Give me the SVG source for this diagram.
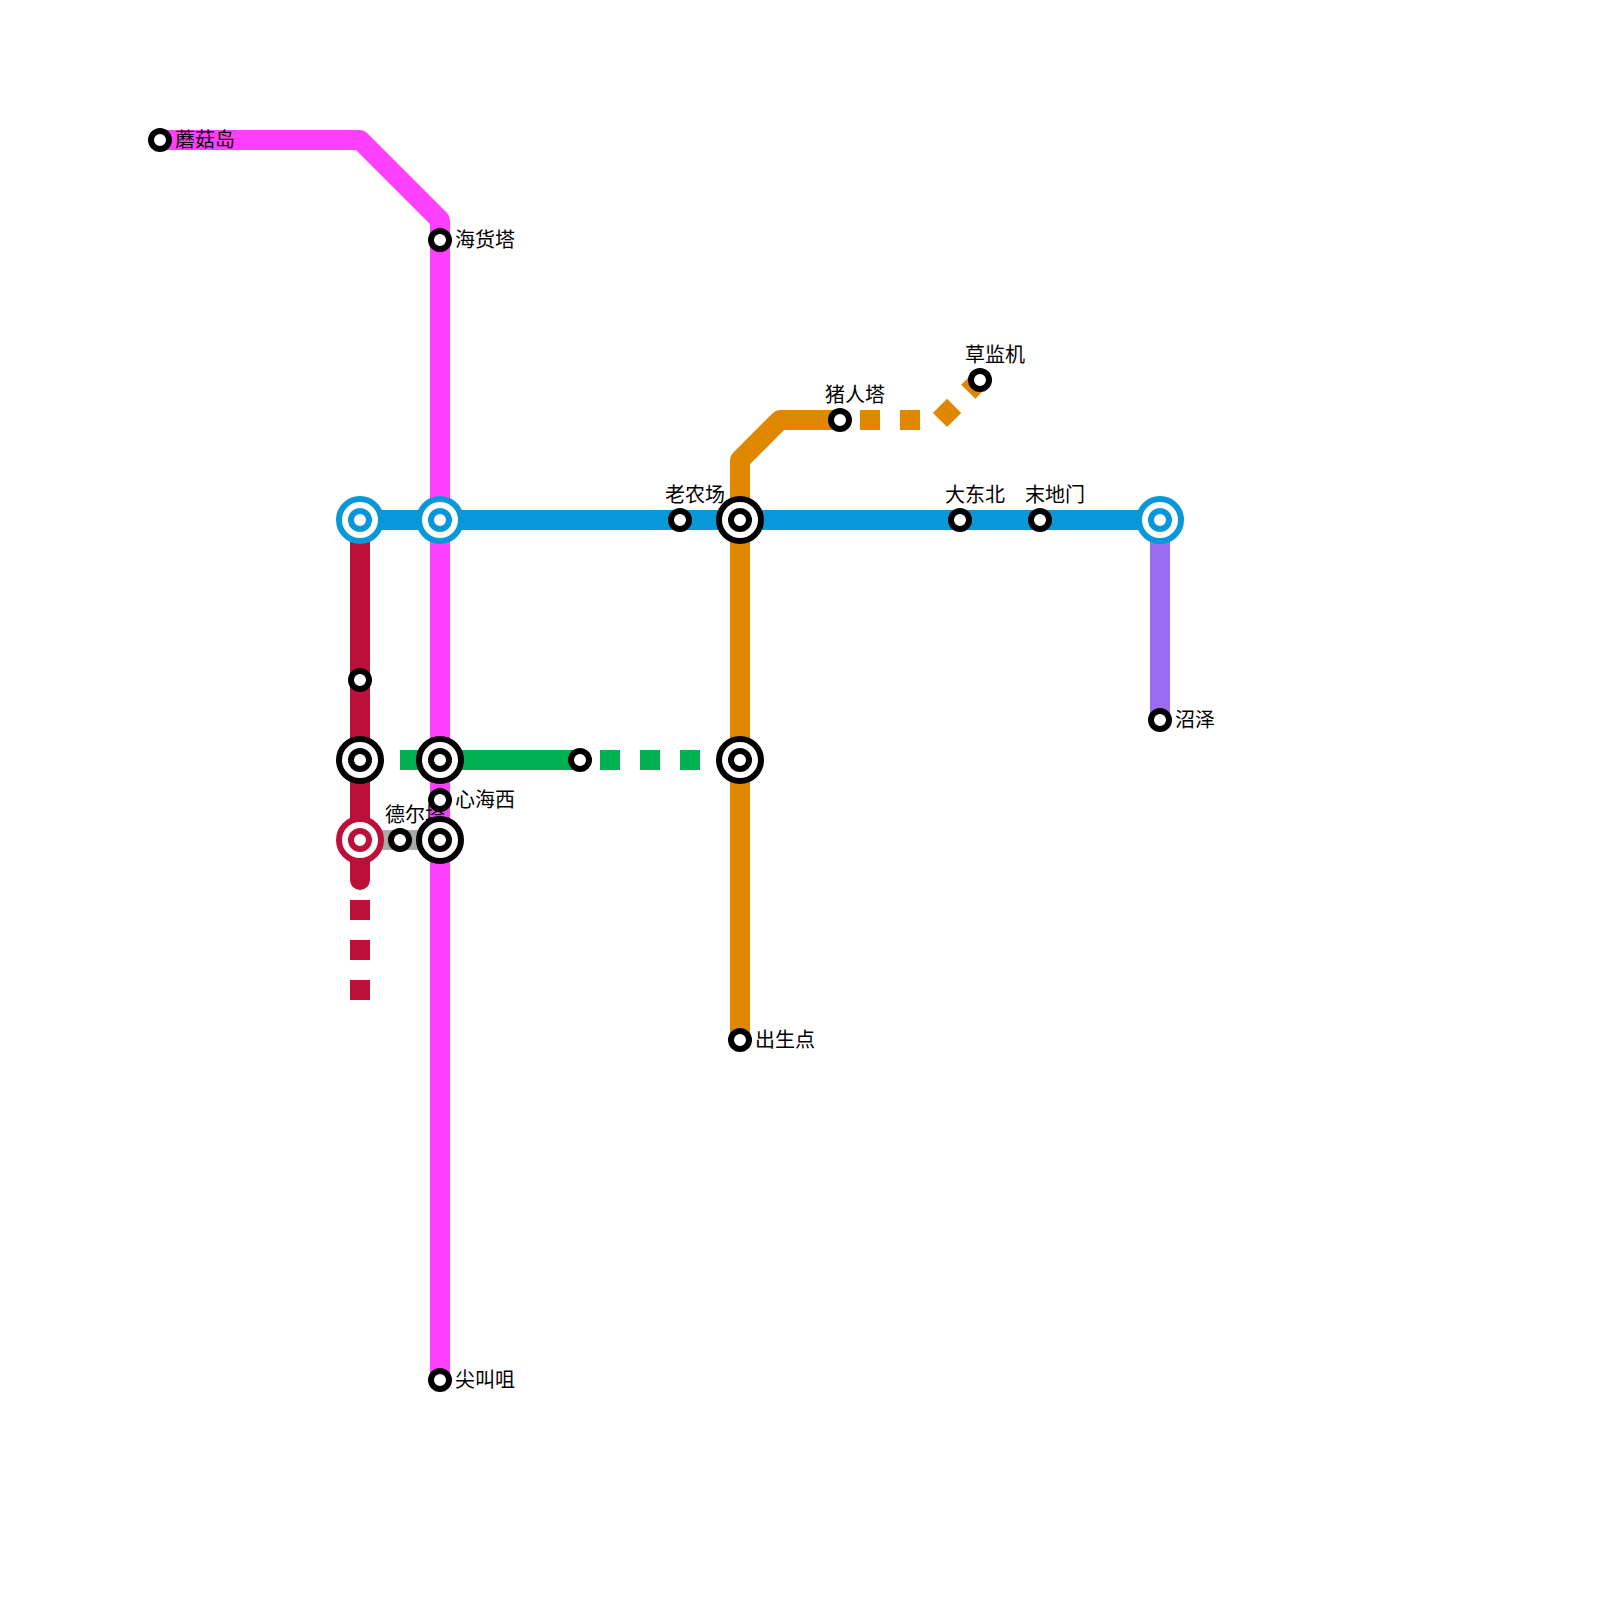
<svg xmlns="http://www.w3.org/2000/svg" width="1600" height="1600" viewBox="0 0 1600 1600">
<style>
.l{fill:none;stroke-width:20;stroke-linejoin:round}
.d{stroke-dasharray:20;stroke-dashoffset:20}
.c{fill:#fff;stroke-width:6}
.t{font-family:"Noto Sans CJK SC","Noto Sans",sans-serif;font-size:20px;fill:#000}
</style>
<defs>
<g id="s"><circle r="9" class="c" stroke="#000"/></g>
</defs>
<rect width="1600" height="1600" fill="#fff"/>
<g id="connectors">
<path class="l" stroke="#ff40ff" d="M160 140H360L440 220V1380"/>
<path class="l" stroke="#bd1038" stroke-linecap="round" d="M360 520V880"/>
<path class="l d" stroke="#bd1038" d="M360 880V1000"/>
<path class="l" stroke="#aaaaaa" d="M360 840H440"/>
<path class="l" stroke="#00b251" d="M400 760H580"/>
<path class="l d" stroke="#00b251" d="M580 760H740"/>
<path class="l" stroke="#e08700" d="M740 1040V460L780 420H840"/>
<path class="l d" stroke="#e08700" d="M840 420H940L980 380"/>
<path class="l" stroke="#9b6ced" d="M1160 520V720"/>
<path class="l" stroke="#0897d9" d="M360 520H1160"/>
</g>
<g id="n-mogudao"><use href="#s" x="160" y="140"/><text class="t" x="175" y="147">蘑菇岛</text></g>
<g id="n-haihuota"><use href="#s" x="440" y="240"/><text class="t" x="455" y="247">海货塔</text></g>
<g id="n-delta"><text class="t" x="385" y="822">德尔塔</text><use href="#s" x="400" y="840"/></g>
<g id="n-xinhaixi"><use href="#s" x="440" y="800"/><text class="t" x="455" y="807">心海西</text></g>
<g id="n-jianjiaoju"><use href="#s" x="440" y="1380"/><text class="t" x="455" y="1387">尖叫咀</text></g>
<g id="n-r680"><use href="#s" x="360" y="680"/></g>
<g id="n-g580"><use href="#s" x="580" y="760"/></g>
<g id="n-laonongchang"><text class="t" x="665" y="502">老农场</text><use href="#s" x="680" y="520"/></g>
<g id="n-dadongbei"><text class="t" x="945" y="502">大东北</text><use href="#s" x="960" y="520"/></g>
<g id="n-modimen"><text class="t" x="1025" y="502">末地门</text><use href="#s" x="1040" y="520"/></g>
<g id="n-zhuren"><text class="t" x="825" y="402">猪人塔</text><use href="#s" x="840" y="420"/></g>
<g id="n-caojian"><text class="t" x="965" y="362">草监机</text><use href="#s" x="980" y="380"/></g>
<g id="n-chusheng"><use href="#s" x="740" y="1040"/><text class="t" x="755" y="1047">出生点</text></g>
<g id="n-zhaoze"><use href="#s" x="1160" y="720"/><text class="t" x="1175" y="727">沼泽</text></g>
<g id="x-360-520"><circle cx="360" cy="520" r="21" class="c" stroke="#0897d9"/><circle cx="360" cy="520" r="9" class="c" stroke="#0897d9"/></g>
<g id="x-440-520"><circle cx="440" cy="520" r="21" class="c" stroke="#0897d9"/><circle cx="440" cy="520" r="9" class="c" stroke="#0897d9"/></g>
<g id="x-1160-520"><circle cx="1160" cy="520" r="21" class="c" stroke="#0897d9"/><circle cx="1160" cy="520" r="9" class="c" stroke="#0897d9"/></g>
<g id="x-740-520"><circle cx="740" cy="520" r="21" class="c" stroke="#000"/><circle cx="740" cy="520" r="9" class="c" stroke="#000"/></g>
<g id="x-360-760"><circle cx="360" cy="760" r="21" class="c" stroke="#000"/><circle cx="360" cy="760" r="9" class="c" stroke="#000"/></g>
<g id="x-440-760"><circle cx="440" cy="760" r="21" class="c" stroke="#000"/><circle cx="440" cy="760" r="9" class="c" stroke="#000"/></g>
<g id="x-740-760"><circle cx="740" cy="760" r="21" class="c" stroke="#000"/><circle cx="740" cy="760" r="9" class="c" stroke="#000"/></g>
<g id="x-360-840"><circle cx="360" cy="840" r="21" class="c" stroke="#bd1038"/><circle cx="360" cy="840" r="9" class="c" stroke="#bd1038"/></g>
<g id="x-440-840"><circle cx="440" cy="840" r="21" class="c" stroke="#000"/><circle cx="440" cy="840" r="9" class="c" stroke="#000"/></g>
</svg>
